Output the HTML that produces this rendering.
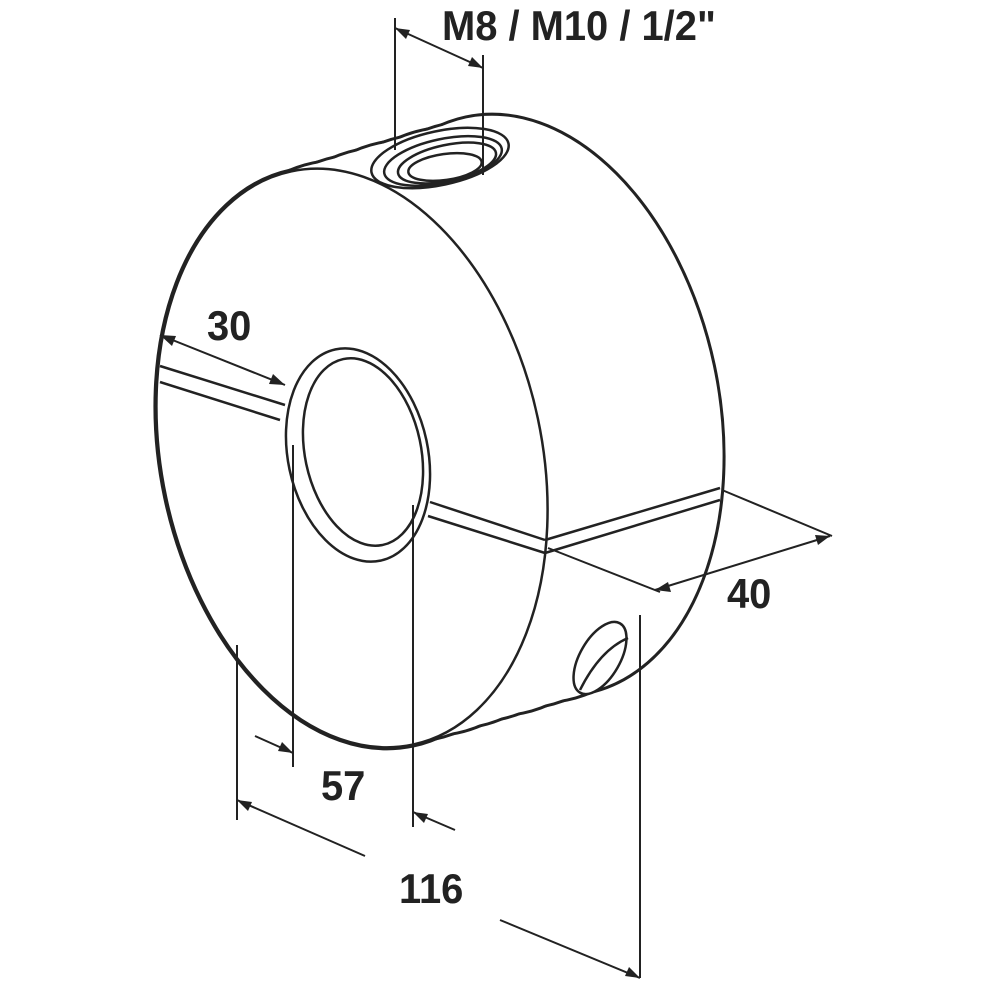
<!DOCTYPE html>
<html><head><style>html,body{margin:0;background:#fff}svg{display:block}</style></head><body>
<svg width="1000" height="1000" viewBox="0 0 1000 1000" xmlns="http://www.w3.org/2000/svg">
<g id="sweep">
<g stroke="#222" stroke-width="6" fill="none">
<ellipse cx="352" cy="458" rx="190" ry="293" transform="rotate(-12 352 458)"/>
<ellipse cx="374" cy="451" rx="190" ry="293" transform="rotate(-12 374 451)"/>
<ellipse cx="396" cy="445" rx="190" ry="293" transform="rotate(-12 396 445)"/>
<ellipse cx="418" cy="438" rx="190" ry="293" transform="rotate(-12 418 438)"/>
<ellipse cx="440" cy="431" rx="190" ry="293" transform="rotate(-12 440 431)"/>
<ellipse cx="462" cy="425" rx="190" ry="293" transform="rotate(-12 462 425)"/>
<ellipse cx="484" cy="418" rx="190" ry="293" transform="rotate(-12 484 418)"/>
<ellipse cx="506" cy="412" rx="190" ry="293" transform="rotate(-12 506 412)"/>
<ellipse cx="527" cy="405" rx="190" ry="293" transform="rotate(-12 527 405)"/>
</g>
<g fill="#fff">
<ellipse cx="352" cy="458" rx="190" ry="293" transform="rotate(-12 352 458)"/>
<ellipse cx="374" cy="451" rx="190" ry="293" transform="rotate(-12 374 451)"/>
<ellipse cx="396" cy="445" rx="190" ry="293" transform="rotate(-12 396 445)"/>
<ellipse cx="418" cy="438" rx="190" ry="293" transform="rotate(-12 418 438)"/>
<ellipse cx="440" cy="431" rx="190" ry="293" transform="rotate(-12 440 431)"/>
<ellipse cx="462" cy="425" rx="190" ry="293" transform="rotate(-12 462 425)"/>
<ellipse cx="484" cy="418" rx="190" ry="293" transform="rotate(-12 484 418)"/>
<ellipse cx="506" cy="412" rx="190" ry="293" transform="rotate(-12 506 412)"/>
<ellipse cx="527" cy="405" rx="190" ry="293" transform="rotate(-12 527 405)"/>
</g>
</g>
<g stroke="#222" stroke-width="2.5" fill="none">
<ellipse cx="352" cy="458" rx="190" ry="293" transform="rotate(-12 352 458)" fill="#fff"/>
<line x1="545" y1="540" x2="720" y2="488"/>
<line x1="545" y1="553" x2="720" y2="500"/>
<line x1="160" y1="366" x2="285" y2="405"/>
<line x1="160" y1="382" x2="280" y2="420"/>
<line x1="430" y1="502" x2="545" y2="540"/>
<line x1="428" y1="516" x2="545" y2="553"/>
<ellipse cx="358" cy="455" rx="70" ry="108" transform="rotate(-12 358 455)" fill="#fff"/>
<ellipse cx="363" cy="452" rx="58" ry="95" transform="rotate(-12 363 452)"/>
<ellipse cx="440" cy="158" rx="70" ry="27" transform="rotate(-12 440 158)" fill="#fff"/>
<ellipse cx="443" cy="161" rx="60" ry="22" transform="rotate(-12 443 161)"/>
<ellipse cx="447" cy="163" rx="50" ry="18" transform="rotate(-12 447 163)"/>
<ellipse cx="445" cy="167" rx="37" ry="13" transform="rotate(-8 445 167)"/>
<ellipse cx="600" cy="658" rx="40" ry="20" transform="rotate(-60 600 658)" fill="#fff"/>
<path d="M580 690 Q600 650 628 638"/>
</g>
<g stroke="#222" stroke-width="2" fill="none">
<line x1="395" y1="18" x2="395" y2="150"/>
<line x1="483" y1="55" x2="483" y2="175"/>
<line x1="395" y1="28" x2="483" y2="68"/>
<line x1="160" y1="335" x2="285" y2="385"/>
<line x1="722" y1="490" x2="832" y2="536"/>
<line x1="548" y1="548" x2="660" y2="592"/>
<line x1="655" y1="590" x2="830" y2="536"/>
<line x1="293" y1="445" x2="293" y2="767"/>
<line x1="413" y1="505" x2="413" y2="827"/>
<line x1="255" y1="736" x2="293" y2="753"/>
<line x1="455" y1="830" x2="413" y2="812"/>
<line x1="237" y1="645" x2="237" y2="820"/>
<line x1="640" y1="615" x2="640" y2="978"/>
<line x1="237" y1="800" x2="365" y2="856"/>
<line x1="500" y1="920" x2="640" y2="978"/>
</g>
<g fill="#222">
<polygon points="395,28 410,30 406,39"/>
<polygon points="483,68 468,66 472,57"/>
<polygon points="160,335 176,336 172,346"/>
<polygon points="285,385 269,384 273,374"/>
<polygon points="655,590 668,582 671,592"/>
<polygon points="830,536 818,545 815,535"/>
<polygon points="293,753 278,751 282,742"/>
<polygon points="413,812 428,814 424,823"/>
<polygon points="237,800 252,802 248,811"/>
<polygon points="640,978 625,976 629,967"/>
</g>
<g font-family="Liberation Sans, sans-serif" font-weight="bold" font-size="42" fill="#222">
<text x="442" y="40" transform="translate(442 0) scale(0.95 1) translate(-442 0)">M8 / M10 / 1/2"</text>
<text x="207" y="340" transform="translate(207 0) scale(0.95 1) translate(-207 0)">30</text>
<text x="321" y="800" transform="translate(321 0) scale(0.95 1) translate(-321 0)">57</text>
<text x="399" y="903" transform="translate(399 0) scale(0.95 1) translate(-399 0)">116</text>
<text x="727" y="608" transform="translate(727 0) scale(0.95 1) translate(-727 0)">40</text>
</g>
</svg>
</body></html>
